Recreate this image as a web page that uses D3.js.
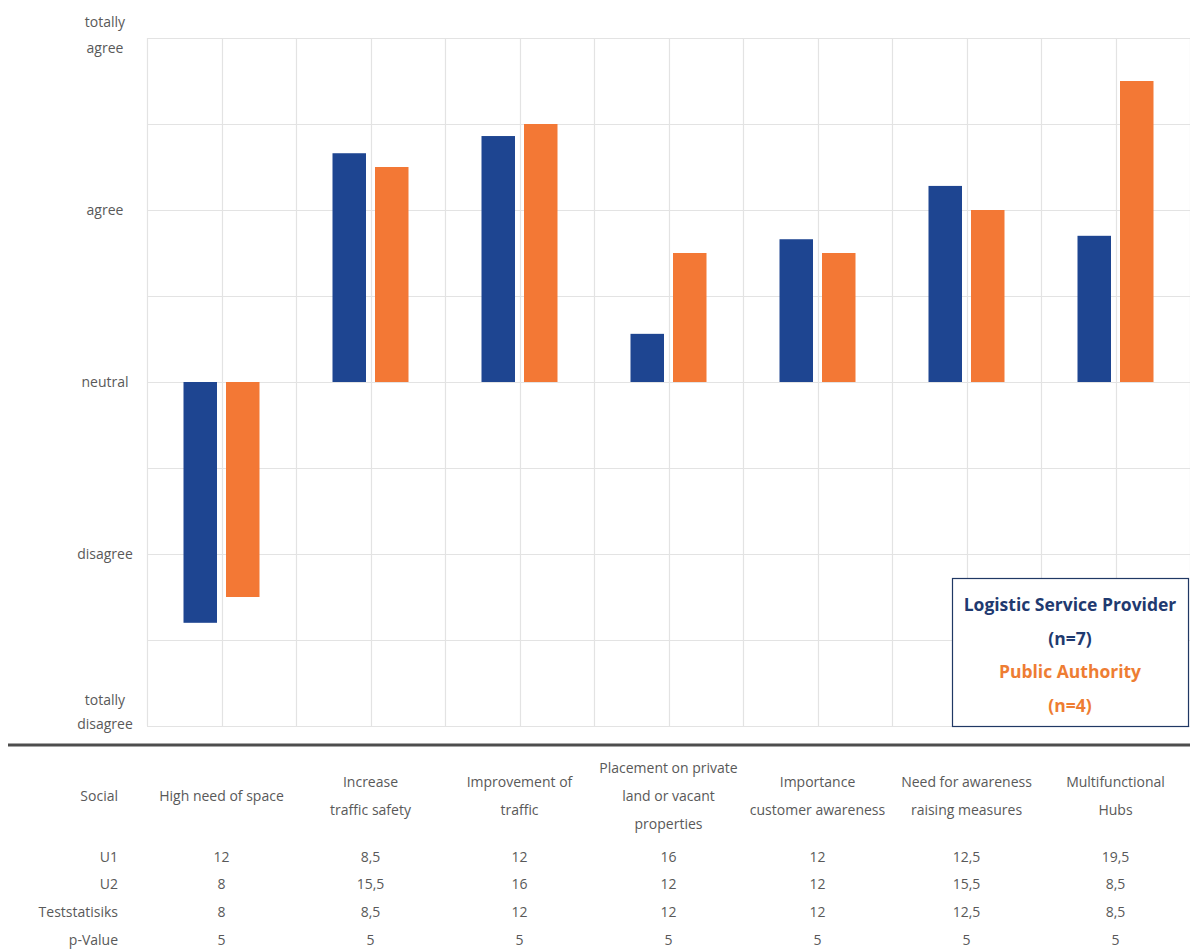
<!DOCTYPE html>
<html>
<head>
<meta charset="utf-8">
<script src="https://cdn.jsdelivr.net/npm/d3@7"></script>
<style>
  html, body { margin: 0; padding: 0; background: #ffffff; }
  svg { display: block; }
  text { font-family: "Open Sans", "DejaVu Sans", sans-serif; }
</style>
</head>
<body>
<svg id="chart" width="1190" height="952"></svg>
<script>
// Survey items (social dimension)
const categories = [
  ["High need of space"],
  ["Increase", "traffic safety"],
  ["Improvement of", "traffic"],
  ["Placement on private", "land or vacant", "properties"],
  ["Importance", "customer awareness"],
  ["Need for awareness", "raising measures"],
  ["Multifunctional", "Hubs"]
];

// Mean agreement, -2 = totally disagree ... 2 = totally agree
const logisticProvider = [-1.40, 1.33, 1.43, 0.28, 0.83, 1.14, 0.85];
const publicAuthority  = [-1.25, 1.25, 1.50, 0.75, 0.75, 1.00, 1.75];

const seriesNames = ["Logistic Service Provider", "Public Authority"];
const seriesCounts = ["(n=7)", "(n=4)"];

const yTickLabels = [
  { v: -2, lines: ["totally", "disagree"] },
  { v: -1, lines: ["disagree"] },
  { v:  0, lines: ["neutral"] },
  { v:  1, lines: ["agree"] },
  { v:  2, lines: ["totally", "agree"] }
];

// Mann-Whitney table below the chart
const tableRowLabels = ["U1", "U2", "Teststatisiks", "p-Value"];
const rowU1   = ["12", "8,5", "12", "16", "12", "12,5", "19,5"];
const rowU2   = ["8", "15,5", "16", "12", "12", "15,5", "8,5"];
const rowTest = ["8", "8,5", "12", "12", "12", "12,5", "8,5"];
const rowP    = ["5", "5", "5", "5", "5", "5", "5"];

const blue = "#1e4591";
const orange = "#f37835";
const gridColor = "#e3e3e3";
const textColor = "#595959";

const svg = d3.select("#chart");

const plot = { left: 147, right: 1190, top: 38, bottom: 726 };
const idx = d3.range(categories.length);

const x = d3.scaleBand().domain(idx).range([plot.left, plot.right]).padding(0);
const cw = x.bandwidth();
const x1 = d3.scaleBand().domain([0, 1])
  .range([cw / 2 - 38, cw / 2 + 38]).paddingInner(0.212).paddingOuter(0);
const y = d3.scaleLinear().domain([-2, 2]).range([plot.bottom, plot.top]);

// horizontal gridlines every half step
const g = svg.append("g");
g.selectAll("line.h").data(d3.range(-2, 2.01, 0.5)).join("line")
  .attr("x1", plot.left).attr("x2", plot.right)
  .attr("y1", d => Math.round(y(d)) + 0.5).attr("y2", d => Math.round(y(d)) + 0.5)
  .attr("stroke", gridColor).attr("stroke-width", 1.2);

// vertical gridlines at category edges and centres
const vx = [];
idx.forEach(i => { vx.push(x(i)); vx.push(x(i) + cw / 2); });
vx.push(plot.right);
g.selectAll("line.v").data(vx).join("line")
  .attr("x1", d => Math.round(d) + 0.5).attr("x2", d => Math.round(d) + 0.5)
  .attr("y1", plot.top).attr("y2", plot.bottom)
  .attr("stroke", gridColor).attr("stroke-width", 1.2);

// bars
const series = [logisticProvider, publicAuthority];
const colors = [blue, orange];
series.forEach((vals, s) => {
  svg.append("g").selectAll("rect").data(vals).join("rect")
    .attr("x", (d, i) => x(i) + x1(s))
    .attr("width", x1.bandwidth())
    .attr("y", d => y(Math.max(0, d)))
    .attr("height", d => Math.abs(y(d) - y(0)))
    .attr("fill", colors[s]);
});

// y-axis category labels
const yl = svg.append("g");
yTickLabels.forEach(t => {
  let offs;
  if (t.lines.length === 1) offs = [5];
  else if (t.v > 0) offs = [-11, 15];
  else offs = [-21, 3];
  t.lines.forEach((ln, k) => {
    yl.append("text")
      .attr("x", 105).attr("y", y(t.v) + offs[k])
      .attr("text-anchor", "middle")
      .attr("font-size", 14).attr("fill", textColor)
      .text(ln);
  });
});

// legend box
const lg = svg.append("g");
lg.append("rect").attr("x", 952.5).attr("y", 578.5).attr("width", 236).attr("height", 148)
  .attr("fill", "#ffffff").attr("stroke", "#203864").attr("stroke-width", 1.2);
const legendLines = [
  { t: seriesNames[0], c: "#1f3a70", y: 611 },
  { t: seriesCounts[0], c: "#1f3a70", y: 645 },
  { t: seriesNames[1], c: "#ee7d33", y: 678 },
  { t: seriesCounts[1], c: "#ee7d33", y: 712 }
];
lg.selectAll("text").data(legendLines).join("text")
  .attr("x", 1070).attr("y", d => d.y)
  .attr("text-anchor", "middle").attr("font-size", 17.5).attr("font-weight", "bold")
  .attr("fill", d => d.c).text(d => d.t);

// separator between chart and table
svg.append("line").attr("x1", 8).attr("x2", 1190).attr("y1", 745).attr("y2", 745)
  .attr("stroke", "#4d4d4d").attr("stroke-width", 3.2);

// table
const tb = svg.append("g");
const lineH = 28;
tb.append("text").attr("x", 118).attr("y", 801).attr("text-anchor", "end")
  .attr("font-size", 14).attr("fill", textColor).text("Social");
categories.forEach((lines, i) => {
  const cx = x(i) + cw / 2;
  const start = 801 - (lines.length - 1) * lineH / 2;
  lines.forEach((ln, k) => {
    tb.append("text").attr("x", cx).attr("y", start + k * lineH)
      .attr("text-anchor", "middle").attr("font-size", 14).attr("fill", textColor)
      .text(ln);
  });
});
const rows = [rowU1, rowU2, rowTest, rowP];
const rowY = [862, 889, 917, 945];
rows.forEach((r, j) => {
  tb.append("text").attr("x", 118).attr("y", rowY[j]).attr("text-anchor", "end")
    .attr("font-size", 14).attr("fill", textColor).text(tableRowLabels[j]);
  r.forEach((v, i) => {
    tb.append("text").attr("x", x(i) + cw / 2).attr("y", rowY[j])
      .attr("text-anchor", "middle").attr("font-size", 14).attr("fill", textColor)
      .text(v);
  });
});
</script>
</body>
</html>
